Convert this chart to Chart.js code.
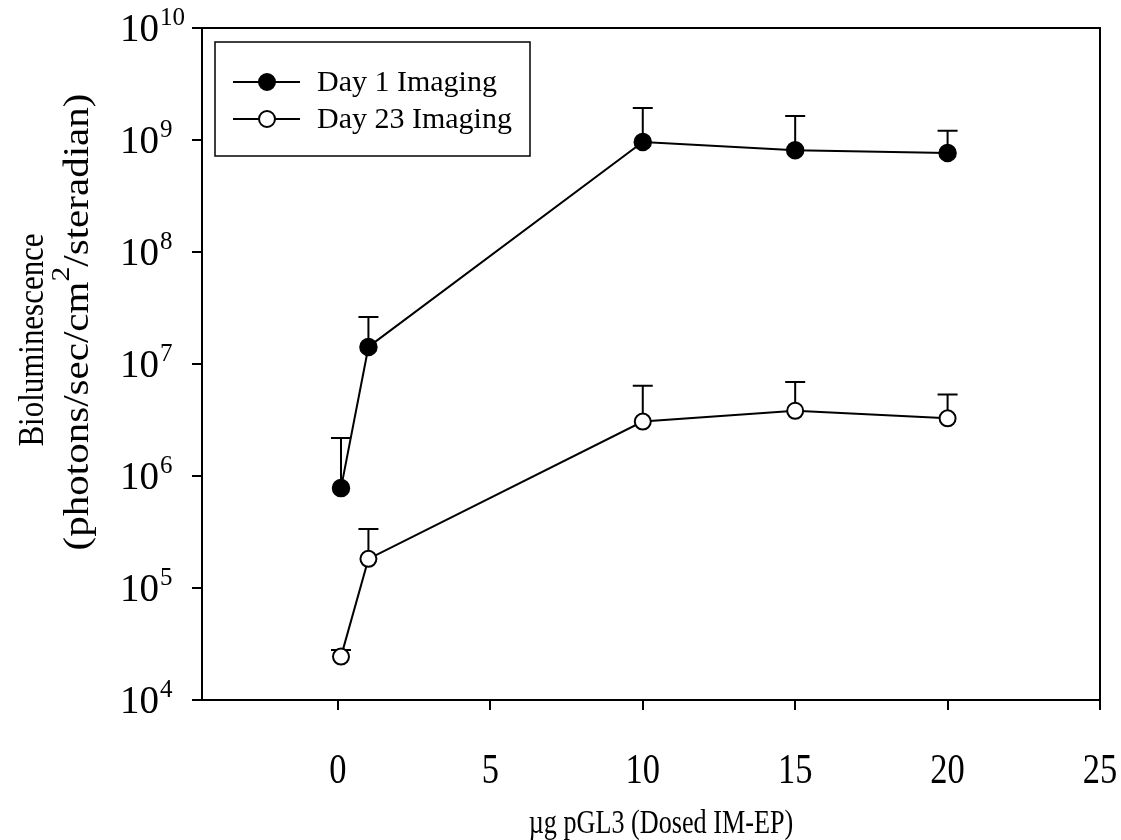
<!DOCTYPE html>
<html>
<head>
<meta charset="utf-8">
<script src="https://cdn.jsdelivr.net/npm/chart.js@4"></script>
<style>
html,body{margin:0;padding:0;background:#fff;}
#wrap{width:1121px;height:840px;position:relative;}
</style>
</head>
<body>
<div id="wrap"><canvas id="c" width="1121" height="840"></canvas></div>
<script>
// ---- data ----
const doses = [0.1, 1, 10, 15, 20];
const day1Mean = [7.8e5, 1.42e7, 9.6e8, 8.1e8, 7.65e8];
const day1Upper = [2.18e6, 2.63e7, 1.93e9, 1.64e9, 1.21e9];
const day23Mean = [2.44e4, 1.82e5, 3.06e6, 3.82e6, 3.27e6];
const day23Upper = [2.8e4, 3.36e5, 6.4e6, 6.9e6, 5.33e6];
const xTickValues = [0, 5, 10, 15, 20, 25];
const yTickExponents = [4, 5, 6, 7, 8, 9, 10];
const seriesLabels = ['Day 1 Imaging', 'Day 23 Imaging'];
const xTitle = 'µg pGL3 (Dosed IM-EP)';
const yTitle1 = 'Bioluminescence';
const yTitle2 = ['(photons/sec/cm', '2', '/steradian)'];

const FONT = "'Liberation Serif', 'Times New Roman', serif";
const upperArrays = [day1Upper, day23Upper];

function toPoints(xs, ys){ return xs.map((x,i)=>({x:x, y:ys[i]})); }

const errorBarPlugin = {
  id: 'errorBars',
  beforeDatasetsDraw(chart){
    const ctx = chart.ctx, xs = chart.scales.x, ys = chart.scales.y;
    ctx.save();
    ctx.strokeStyle = '#000'; ctx.lineWidth = 2;
    chart.data.datasets.forEach((ds, di) => {
      const up = upperArrays[di];
      ds.data.forEach((p, i) => {
        const px = xs.getPixelForValue(p.x);
        const py = ys.getPixelForValue(p.y);
        const pu = ys.getPixelForValue(up[i]);
        ctx.beginPath();
        ctx.moveTo(px, py); ctx.lineTo(px, pu);
        ctx.moveTo(px - 10, pu); ctx.lineTo(px + 10, pu);
        ctx.stroke();
      });
    });
    ctx.restore();
  }
};

const decorPlugin = {
  id: 'decor',
  afterDraw(chart){
    const ctx = chart.ctx, a = chart.chartArea, ys = chart.scales.y, xs = chart.scales.x;
    ctx.save();
    // frame
    ctx.strokeStyle = '#000'; ctx.lineWidth = 2;
    ctx.strokeRect(a.left, a.top, a.right - a.left, a.bottom - a.top);
    ctx.fillStyle = '#000';
    // y tick labels with superscripts
    ctx.textBaseline = 'alphabetic';
    ctx.textAlign = 'left';
    yTickExponents.forEach(e => {
      const y = ys.getPixelForValue(Math.pow(10, e));
      ctx.font = '39px ' + FONT;
      const w10 = ctx.measureText('10').width;
      const x0 = 120;
      ctx.fillText('10', x0, y + 13);
      ctx.font = '25px ' + FONT;
      ctx.fillText(String(e), x0 + w10 + 1, y - 3);
    });
    // x tick labels (tall, narrow serif digits)
    xTickValues.forEach(v => {
      const px = xs.getPixelForValue(v);
      ctx.save();
      ctx.translate(px, 771);
      ctx.scale(0.82, 1);
      ctx.font = '42px ' + FONT;
      ctx.textAlign = 'center';
      ctx.textBaseline = 'middle';
      ctx.fillText(String(v), 0, 1);
      ctx.restore();
    });
    // y title line 1
    ctx.save();
    ctx.translate(34, 340);
    ctx.rotate(-Math.PI/2);
    ctx.scale(0.86, 1);
    ctx.font = '36px ' + FONT;
    ctx.textAlign = 'center';
    ctx.textBaseline = 'middle';
    ctx.fillText(yTitle1, 0, 0);
    ctx.restore();
    // y title line 2 with superscript
    ctx.save();
    ctx.translate(76, 322);
    ctx.rotate(-Math.PI/2);
    ctx.scale(1.14, 1);
    ctx.textAlign = 'left';
    ctx.textBaseline = 'alphabetic';
    ctx.font = '36px ' + FONT;
    const wA = ctx.measureText(yTitle2[0]).width;
    const wC = ctx.measureText(yTitle2[2]).width;
    ctx.font = '26px ' + FONT;
    const wB = ctx.measureText(yTitle2[1]).width;
    let sx = -(wA + wB + wC)/2;
    ctx.font = '36px ' + FONT;
    ctx.fillText(yTitle2[0], sx, 12);
    ctx.font = '26px ' + FONT;
    ctx.fillText(yTitle2[1], sx + wA, -7);
    ctx.font = '36px ' + FONT;
    ctx.fillText(yTitle2[2], sx + wA + wB, 12);
    ctx.restore();
    // x title
    ctx.save();
    ctx.translate(661, 824);
    ctx.scale(0.77, 1);
    ctx.font = '34px ' + FONT;
    ctx.textAlign = 'center';
    ctx.textBaseline = 'middle';
    ctx.fillText(xTitle, 0, 0);
    ctx.restore();
    // legend
    ctx.lineWidth = 1.5;
    ctx.fillStyle = '#fff';
    ctx.fillRect(215, 42, 315, 114);
    ctx.strokeStyle = '#000';
    ctx.strokeRect(215, 42, 315, 114);
    const rows = [82, 119];
    chart.data.datasets.forEach((ds, i) => {
      const y = rows[i];
      ctx.strokeStyle = '#000'; ctx.lineWidth = 2;
      ctx.beginPath(); ctx.moveTo(233, y); ctx.lineTo(300, y); ctx.stroke();
      ctx.beginPath(); ctx.arc(267, y, 8, 0, Math.PI*2);
      ctx.fillStyle = ds.pointBackgroundColor; ctx.fill(); ctx.stroke();
      ctx.fillStyle = '#000';
      ctx.font = '30px ' + FONT;
      ctx.textAlign = 'left'; ctx.textBaseline = 'middle';
      ctx.fillText(ds.label, 317, y + 1);
    });
    ctx.restore();
  }
};

new Chart(document.getElementById('c'), {
  type: 'scatter',
  data: {
    datasets: [
      { label: seriesLabels[0], data: toPoints(doses, day1Mean), showLine: true,
        borderColor: '#000', borderWidth: 2, pointRadius: 8.5, pointBackgroundColor: '#000',
        pointBorderColor: '#000', pointBorderWidth: 1.5 },
      { label: seriesLabels[1], data: toPoints(doses, day23Mean), showLine: true,
        borderColor: '#000', borderWidth: 2, pointRadius: 8, pointBackgroundColor: '#fff',
        pointBorderColor: '#000', pointBorderWidth: 2 }
    ]
  },
  options: {
    responsive: false,
    animation: false,
    devicePixelRatio: 1,
    layout: { padding: { left: 192, top: 28, right: 21, bottom: 130 } },
    plugins: { legend: { display: false }, tooltip: { enabled: false } },
    scales: {
      x: {
        type: 'linear', min: -4.46, max: 25,
        afterBuildTicks: s => { s.ticks = xTickValues.map(v => ({value: v})); },
        grid: { drawOnChartArea: false, drawTicks: true, tickLength: 10, color: '#000', lineWidth: 2 },
        border: { display: true, color: '#000', width: 2 },
        ticks: { display: false }
      },
      y: {
        type: 'logarithmic', min: 1e4, max: 1e10,
        afterBuildTicks: s => { s.ticks = yTickExponents.map(e => ({value: Math.pow(10, e)})); },
        grid: { drawOnChartArea: false, drawTicks: true, tickLength: 10, color: '#000', lineWidth: 2 },
        border: { display: true, color: '#000', width: 2 },
        ticks: { display: false }
      }
    }
  },
  plugins: [errorBarPlugin, decorPlugin]
});
</script>
</body>
</html>
